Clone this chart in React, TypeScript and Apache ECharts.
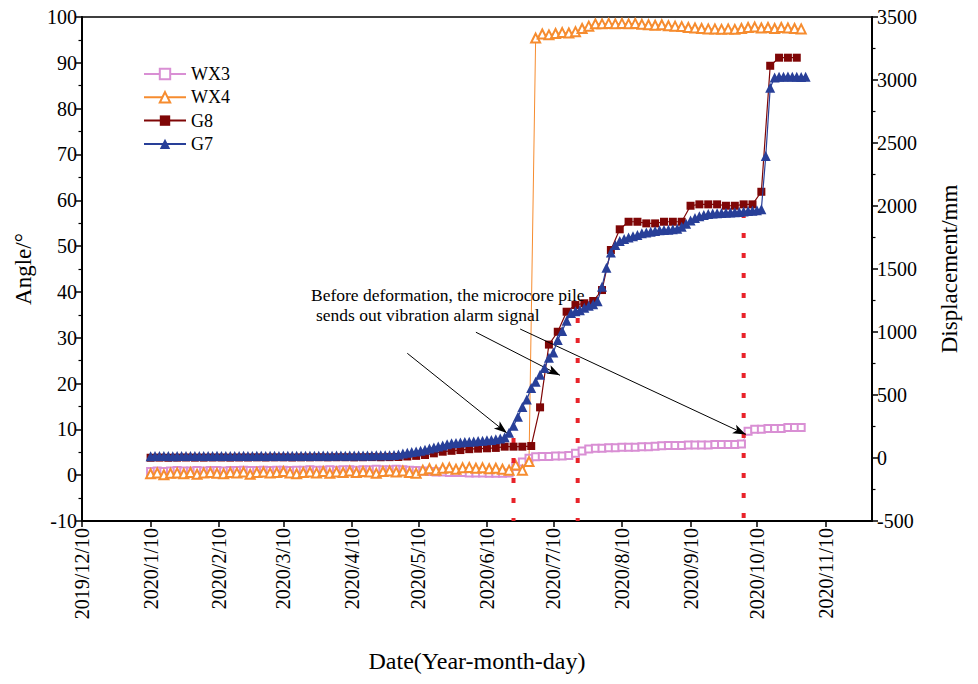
import React, { useEffect, useRef } from "react";
import * as echarts from "echarts";

const FONT = "Liberation Serif";
const DAY_MS = 86400000;

// x-axis tick labels (10th of each month)
const TICK_LABELS = [
  "2019/12/10", "2020/1/10", "2020/2/10", "2020/3/10", "2020/4/10", "2020/5/10",
  "2020/6/10", "2020/7/10", "2020/8/10", "2020/9/10", "2020/10/10", "2020/11/10",
];
const X_MIN = "2019/12/10";
const X_MAX = "2020/12/1";

// sampling schedules (first date, step in days)
const G7_FIRST = "2020/1/10";
const G7_STEP = 2;
const G8_FIRST = "2020/1/10";
const G8_STEP = 4;
const WX_FIRST = "2020/1/10";
const WX_STEP = 3;

// G7 displacement (mm), every 2 days
const G7_VALUES = [
  14, 15, 15, 16, 15, 14, 15, 16, 16, 15, 15, 16, 15, 15, 16, 17, 16, 15, 16, 16,
  16, 17, 16, 16, 17, 17, 16, 17, 17, 16, 17, 18, 17, 17, 18, 18, 17, 18, 18, 19,
  18, 18, 19, 19, 18, 19, 20, 19, 20, 20, 20, 21, 21, 22, 22,
  24, 28, 35, 42, 48, 52, 58, 66, 75, 84, 92, 100, 110, 117, 120, 123, 126, 128, 131,
  134, 137, 140, 143, 148, 155, 165,
  200, 255, 327, 405, 465, 555, 605, 660, 715, 795, 838, 937, 1008, 1090, 1151, 1165,
  1173, 1192, 1208, 1220, 1245, 1360, 1510, 1630, 1690,
  1722, 1738, 1750, 1760, 1770, 1783, 1789, 1796, 1801, 1807, 1810, 1812, 1815, 1820,
  1836, 1860, 1885, 1905, 1918, 1928, 1937, 1940, 1942, 1944, 1947, 1949, 1951, 1953,
  1956, 1960, 1963, 1966, 1975, 2397, 2939,
  3020, 3026, 3026, 3028, 3026, 3026, 3024, 3026,
];

// G8 displacement (mm), every 4 days
const G8_VALUES = [
  2, 3, 2, 3, 4, 3, 3, 4, 4, 3, 4, 4, 5, 4, 5, 5, 4, 5, 5, 6, 5, 6, 6, 5, 6, 7, 6, 7,
  8, 12, 17, 24, 37, 50, 57, 63, 70, 74, 77, 80, 90, 90, 90, 95, 402, 900, 1002, 1161,
  1214, 1228, 1246, 1333, 1651, 1815, 1875, 1875, 1862, 1862, 1875, 1875, 1875, 2002,
  2013, 2013, 2013, 2002, 2002, 2013, 2013, 2113, 3113, 3177, 3177, 3177,
];

// WX3 angle (°), every 3 days
const WX3_VALUES = [
  0.8, 0.9, 0.8, 0.9, 1.0, 0.9, 0.9, 1.0, 0.9, 1.0, 1.0, 0.9, 1.0, 1.0, 1.1, 1.0, 1.0,
  1.1, 1.0, 1.1, 1.1, 1.0, 1.1, 1.1, 1.2, 1.1, 1.1, 1.2, 1.1, 1.2, 1.2, 1.1, 1.2, 1.2,
  1.3, 1.2, 1.2, 1.3, 1.2, 1.1, 1.0,
  0.9, 0.8, 0.7, 0.7, 0.6, 0.6, 0.6, 0.5, 0.5, 0.5, 0.4, 0.4, 0.4, 0.5,
  1.9, 2.9, 3.7, 4.0, 4.1, 4.1, 4.2, 4.2, 4.3, 4.8, 5.3, 5.7, 5.9, 5.9, 6.0, 6.0, 6.1,
  6.1, 6.1, 6.2, 6.2, 6.3, 6.4, 6.5, 6.5, 6.5, 6.6, 6.6, 6.6, 6.6, 6.7, 6.7, 6.7, 6.7,
  6.8, 9.6, 10.0, 10.0, 10.2, 10.2, 10.2, 10.4, 10.4, 10.4,
];

// WX4 angle (°), every 3 days
const WX4_VALUES = [
  0.3, 0.5, 0.1, 0.4, 0.5, 0.3, 0.6, 0.2, 0.5, 0.6, 0.4, 0.3, 0.6, 0.5, 0.7, 0.2, 0.6,
  0.7, 0.5, 0.6, 0.8, 0.5, 0.3, 0.6, 0.7, 0.5, 0.8, 0.4, 0.7, 0.6, 0.9, 0.6, 0.8, 0.7,
  0.4, 0.8, 0.9, 0.7, 0.9, 0.6, 0.4,
  1.1, 1.4, 1.1, 1.5, 1.6, 1.3, 1.6, 1.7, 1.5, 1.6, 1.4, 1.5, 1.3, 1.1, 2.2, 1.1, 3.0,
  95.4, 96.3, 96.1, 96.4, 96.6, 96.5, 96.8, 97.5, 98.0, 98.5, 98.5, 98.6, 98.5, 98.6,
  98.5, 98.6, 98.4, 98.3, 98.2, 98.3, 98.1, 98.0, 97.9, 97.7, 97.6, 97.5, 97.4, 97.4,
  97.3, 97.4, 97.3, 97.5, 97.7, 97.8, 97.6, 97.7, 97.5, 97.7, 97.6, 97.5, 97.4,
];

// alarm markers (red dotted verticals, angle axis units)
const ALARM_DATES = ["2020/6/22", "2020/7/21", "2020/10/4"];
const ALARM_TOPS = [8.1, 34.3, 57.2];
const ALARM_BOTTOM = -10;

// annotation arrows (angle axis units)
const ARROW_FROM: [string, number][] = [["2020/5/5", 26.6], ["2020/6/5", 31.2], ["2020/6/25", 31.9]];
const ARROW_TO: [string, number][] = [["2020/6/19", 9.2], ["2020/7/13", 21.8], ["2020/10/5", 8.9]];
const ANNOTATION = ["Before deformation, the microcore pile", "sends out vibration alarm signal"];

const parseDate = (s: string) => {
  const [y, m, d] = s.split("/").map(Number);
  return Date.UTC(y, m - 1, d);
};
// days since the axis origin
const toDay = (s: string) => Math.round((parseDate(s) - parseDate(X_MIN)) / DAY_MS);
const TICK_DAYS = TICK_LABELS.map(toDay);

const buildSeries = (first: string, step: number, values: number[]) => {
  const d0 = toDay(first);
  return values.map((v, i) => [d0 + i * step, v]);
};

export default function App() {
  const ref = useRef<HTMLDivElement>(null);
  useEffect(() => {
    if (!ref.current) return;
    const chart = echarts.init(ref.current, undefined, { renderer: "svg" });
    const axisCommon = {
      axisLine: { show: true, lineStyle: { color: "#000", width: 2 } },
      axisTick: { show: true, inside: false, length: 6, lineStyle: { color: "#000", width: 1.5 } },
      minorTick: { show: true, splitNumber: 2, length: 3.5, lineStyle: { color: "#000", width: 1.2 } },
      splitLine: { show: false },
      axisLabel: {
        color: "#000", fontFamily: FONT, fontSize: 20, margin: 5,
        formatter: (v: number) => String(v),
      },
      nameLocation: "middle",
      nameRotate: 90,
      nameTextStyle: { color: "#000", fontFamily: FONT, fontSize: 23 },
    };
    const alarmSeries = ALARM_DATES.map((d, i) => ({
      name: "alarm" + i,
      type: "line",
      yAxisIndex: 0,
      data: [[toDay(d), ALARM_TOPS[i]], [toDay(d), ALARM_BOTTOM]],
      symbol: "none",
      lineStyle: { color: "#e8232a", width: 4, type: [5, 15], cap: "butt" },
      z: 3,
      silent: true,
    }));
    const arrowSeries = {
      name: "arrows",
      type: "line",
      yAxisIndex: 0,
      data: [],
      symbol: "none",
      silent: true,
      z: 6,
      markLine: {
        silent: true,
        symbol: ["none", "arrow"],
        symbolSize: [7, 13],
        label: { show: false },
        lineStyle: { color: "#000", width: 1, type: "solid" },
        data: ARROW_FROM.map((f, k) => [
          { coord: [toDay(f[0]), f[1]] },
          { coord: [toDay(ARROW_TO[k][0]), ARROW_TO[k][1]] },
        ]),
      },
    };
    chart.setOption({
      animation: false,
      backgroundColor: "#fff",
      grid: {
        left: 82, right: 106, top: 17, bottom: 163,
        show: true, borderColor: "#000", borderWidth: 1.3, backgroundColor: "transparent",
      },
      legend: {
        data: ["WX3", "WX4", "G8", "G7"],
        orient: "vertical",
        left: 143,
        top: 64,
        itemWidth: 42,
        itemHeight: 13,
        itemGap: 3.3,
        padding: 0,
        textStyle: { fontFamily: FONT, fontSize: 18, color: "#000", lineHeight: 20 },
      },
      xAxis: {
        type: "value",
        min: 0,
        max: toDay(X_MAX),
        name: "Date(Year-month-day)",
        nameLocation: "middle",
        nameGap: 128,
        nameTextStyle: { color: "#000", fontFamily: FONT, fontSize: 24 },
        axisLine: { show: true, onZero: false, lineStyle: { color: "#000", width: 2 } },
        axisTick: { show: true, inside: false, length: 6, customValues: TICK_DAYS, lineStyle: { color: "#000", width: 1.5 } },
        splitLine: { show: false },
        axisLabel: {
          rotate: 90,
          customValues: TICK_DAYS,
          color: "#000",
          fontFamily: FONT,
          fontSize: 20,
          margin: 7,
          formatter: (v: number) => {
            const idx = TICK_DAYS.indexOf(Math.round(v));
            return idx >= 0 ? TICK_LABELS[idx] : "";
          },
        },
      },
      yAxis: [
        {
          ...axisCommon,
          type: "value",
          position: "left",
          min: -10,
          max: 100,
          interval: 10,
          name: "Angle/°",
          nameGap: 47,
        },
        {
          ...axisCommon,
          type: "value",
          position: "right",
          min: -500,
          max: 3500,
          interval: 500,
          name: "Displacement/mm",
          nameGap: 66,
        },
      ],
      series: [
        {
          name: "WX3",
          type: "line",
          yAxisIndex: 0,
          data: buildSeries(WX_FIRST, WX_STEP, WX3_VALUES),
          symbol: "emptyRect",
          symbolSize: 7,
          color: "#d98fd4",
          lineStyle: { width: 1, color: "#d98fd4" },
          itemStyle: { color: "#d98fd4", borderWidth: 1.2 },
          z: 2,
        },
        {
          name: "WX4",
          type: "line",
          yAxisIndex: 0,
          data: buildSeries(WX_FIRST, WX_STEP, WX4_VALUES),
          symbol: "emptyTriangle",
          symbolSize: 9,
          color: "#f68c2f",
          lineStyle: { width: 1, color: "#f68c2f" },
          itemStyle: { color: "#f68c2f", borderWidth: 1.2 },
          z: 2,
        },
        ...alarmSeries,
        {
          name: "G8",
          type: "line",
          yAxisIndex: 1,
          data: buildSeries(G8_FIRST, G8_STEP, G8_VALUES),
          symbol: "rect",
          symbolSize: 8,
          color: "#7f0606",
          lineStyle: { width: 1.2, color: "#7f0606" },
          itemStyle: { color: "#7f0606" },
          z: 4,
        },
        {
          name: "G7",
          type: "line",
          yAxisIndex: 1,
          data: buildSeries(G7_FIRST, G7_STEP, G7_VALUES),
          symbol: "triangle",
          symbolSize: 10,
          color: "#283f98",
          lineStyle: { width: 1.2, color: "#283f98" },
          itemStyle: { color: "#283f98" },
          z: 5,
        },
        arrowSeries,
      ],
      graphic: [
        {
          type: "text",
          left: 311,
          top: 286,
          style: { text: ANNOTATION[0], fontFamily: FONT, fontSize: 17.5, fill: "#000" },
          z: 10,
        },
        {
          type: "text",
          left: 316,
          top: 306,
          style: { text: ANNOTATION[1], fontFamily: FONT, fontSize: 17.5, fill: "#000" },
          z: 10,
        },
      ],
    });
    return () => chart.dispose();
  }, []);
  return (
    <div
      ref={ref}
      style={{ position: "absolute", left: 0, top: 0, width: 978, height: 684, background: "#fff" }}
    />
  );
}
